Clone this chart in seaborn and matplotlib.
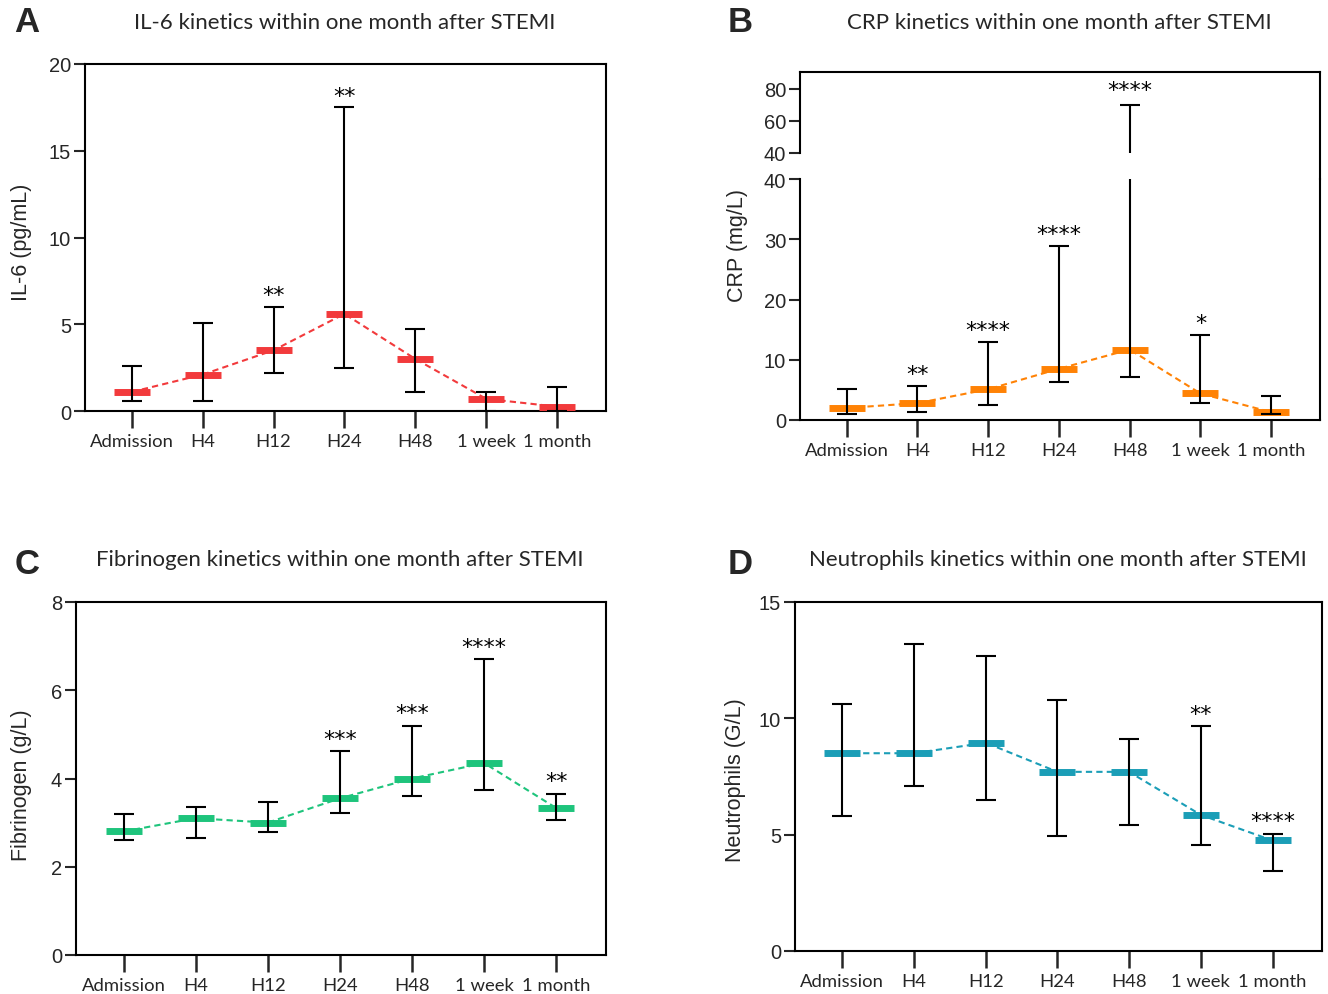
import numpy as np
import pandas as pd
import matplotlib
matplotlib.use("Agg")
import matplotlib.pyplot as plt
import seaborn as sns
from matplotlib.patches import Rectangle

sns.set_theme(style="ticks")
plt.rcParams['font.family'] = ['Liberation Sans', 'DejaVu Sans']

# ---------------- data ----------------
timepoints = ["Admission", "H4", "H12", "H24", "H48", "1 week", "1 month"]

il6_median = [1.1, 2.1, 3.5, 5.6, 3.0, 0.7, 0.25]
il6_low = [0.6, 0.6, 2.2, 2.5, 1.1, 0.0, 0.0]
il6_high = [2.6, 5.1, 6.0, 17.5, 4.7, 1.1, 1.4]
il6_stars = ["", "", "**", "**", "", "", ""]

crp_median = [2.0, 2.8, 5.1, 8.5, 11.7, 4.4, 1.3]
crp_low = [1.0, 1.3, 2.5, 6.3, 7.1, 2.8, 1.0]
crp_high = [5.2, 5.6, 12.9, 28.9, 70.0, 14.1, 4.0]
crp_stars = ["", "**", "****", "****", "****", "*", ""]

fib_median = [2.8, 3.1, 3.0, 3.55, 4.0, 4.35, 3.33]
fib_low = [2.6, 2.65, 2.78, 3.22, 3.6, 3.75, 3.06]
fib_high = [3.2, 3.35, 3.46, 4.62, 5.2, 6.7, 3.66]
fib_stars = ["", "", "", "***", "***", "****", "**"]

neu_median = [8.5, 8.5, 8.95, 7.7, 7.7, 5.85, 4.75]
neu_low = [5.8, 7.1, 6.5, 4.95, 5.4, 4.55, 3.45]
neu_high = [10.6, 13.2, 12.7, 10.8, 9.1, 9.65, 5.05]
neu_stars = ["", "", "", "", "", "**", "****"]

RED = "#F23A3C"
ORANGE = "#FF8205"
GREEN = "#1EC47C"
BLUE = "#1B9EB7"

W, H = 1328, 995
fig = plt.figure(figsize=(W / 100, H / 100), dpi=100)


def fx(px):
    return px / W


def fy(py):
    return 1 - py / H


def make_ax(left, right, top, bottom):
    return fig.add_axes([fx(left), fy(bottom), fx(right - left), (bottom - top) / H])


XLIM = (-0.66, 6.69)


def style_ax(ax, ylim, yticks, show_xticks=True):
    ax.set_xlim(*XLIM)
    ax.set_ylim(*ylim)
    ax.set_yticks(yticks)
    ax.set_yticklabels([str(t) for t in yticks], fontsize=14.5, fontfamily="Liberation Sans")
    for s in ax.spines.values():
        s.set_linewidth(1.5)
        s.set_color("black")
    ax.tick_params(axis="y", length=8, width=1.5, pad=2)
    if show_xticks:
        ax.set_xticks(range(len(timepoints)))
        ax.set_xticklabels(timepoints, fontsize=13.3, fontfamily="Lato")
        ax.tick_params(axis="x", length=12.5, width=1.8, pad=3)
    else:
        ax.set_xticks([])
    ax.set_xlabel("")
    ax.set_ylabel("")


def draw_series(ax, med, lo, hi, color, clip=None):
    df = pd.DataFrame({"x": np.arange(len(timepoints)), "y": med})
    sns.lineplot(data=df, x="x", y="y", ax=ax, color=color, linestyle=(0, (3, 2)),
                 linewidth=1.5, zorder=2, legend=False)
    arts = list(ax.lines[-1:])
    m = ax.plot(df["x"], df["y"], linestyle="none", marker="_", markersize=26,
                markeredgewidth=5, color=color, zorder=3)
    arts += m
    med_a = np.array(med)
    yerr = np.vstack([med_a - np.array(lo), np.array(hi) - med_a])
    eb = ax.errorbar(df["x"], med_a, yerr=yerr, fmt="none", ecolor="black",
                     elinewidth=1.5, capsize=7, capthick=1.5, zorder=4)
    for child in eb.get_children():
        arts.append(child)
    if clip is not None:
        for a in arts:
            a.set_clip_path(clip)
    return arts


def put_stars(ax, hi, stars, off):
    for i, (h, s) in enumerate(zip(hi, stars)):
        if s and np.isfinite(h):
            ax.text(i, h + off, s, ha="center", va="bottom", fontsize=16,
                    fontfamily="DejaVu Sans", color="black")


def title(xc, yc, txt):
    fig.text(fx(xc), fy(yc), txt, ha="center", va="center", fontsize=16, fontfamily="Lato")


def letter(xc, yc, txt):
    fig.text(fx(xc), fy(yc), txt, ha="center", va="center", fontsize=25,
             fontweight="bold", fontfamily="Liberation Sans")


def ylab(xc, yc, txt):
    fig.text(fx(xc), fy(yc), txt, ha="center", va="center", rotation=90,
             fontsize=15.5, fontfamily="Liberation Sans")


# ---------------- Panel A ----------------
axA = make_ax(85, 606, 65, 412)
draw_series(axA, il6_median, il6_low, il6_high, RED)
style_ax(axA, (0, 20), [0, 5, 10, 15, 20])
put_stars(axA, il6_high, il6_stars, 0.1)
letter(27, 22, "A")
title(345, 23, "IL-6 kinetics within one month after STEMI")
ylab(22, 242, "IL-6 (pg/mL)")

# ---------------- Panel B (broken axis) ----------------
axB = make_ax(800, 1320, 180, 421)
draw_series(axB, crp_median, crp_low, crp_high, ORANGE)
style_ax(axB, (0, 40), [0, 10, 20, 30, 40])
axB.spines["top"].set_visible(False)
put_stars(axB, [h if h < 40 else np.nan for h in crp_high], crp_stars, 0.3)

axBt = make_ax(800, 1320, 73, 180)
axBt.set_xlim(*XLIM)
axBt.set_ylim(23.75, 90.6)
clip_rect = Rectangle((-1, 40), 9, 100, transform=axBt.transData)
draw_series(axBt, crp_median, crp_low, crp_high, ORANGE, clip=clip_rect)
style_ax(axBt, (23.75, 90.6), [40, 60, 80], show_xticks=False)
axBt.spines["bottom"].set_visible(False)
axBt.spines["left"].set_bounds(40, 90.6)
axBt.patch.set_alpha(0)
put_stars(axBt, [h if h >= 40 else np.nan for h in crp_high], crp_stars, 3)
letter(740, 22, "B")
title(1059, 23, "CRP kinetics within one month after STEMI")
ylab(737, 246, "CRP (mg/L)")

# ---------------- Panel C ----------------
axC = make_ax(76, 606, 603, 956)
draw_series(axC, fib_median, fib_low, fib_high, GREEN)
style_ax(axC, (0, 8), [0, 2, 4, 6, 8])
put_stars(axC, fib_high, fib_stars, 0.05)
letter(27, 565, "C")
title(340, 560, "Fibrinogen kinetics within one month after STEMI")
ylab(22, 785, "Fibrinogen (g/L)")

# ---------------- Panel D ----------------
axD = make_ax(795, 1322, 603, 952)
draw_series(axD, neu_median, neu_low, neu_high, BLUE)
style_ax(axD, (0, 15), [0, 5, 10, 15])
put_stars(axD, neu_high, neu_stars, 0.1)
letter(740, 565, "D")
title(1058, 560, "Neutrophils kinetics within one month after STEMI")
ylab(735, 780, "Neutrophils (G/L)")

fig.savefig("out.png", dpi=100)
